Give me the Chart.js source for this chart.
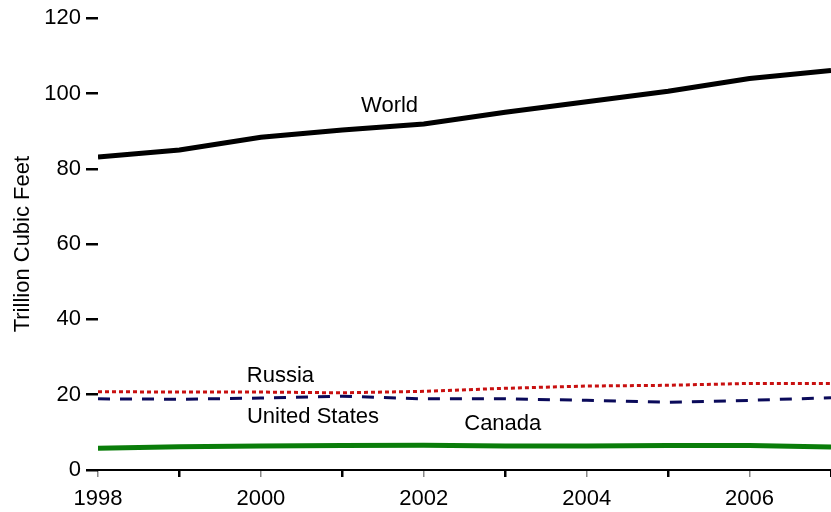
<!DOCTYPE html>
<html>
<head>
<meta charset="utf-8">
<script src="https://cdn.jsdelivr.net/npm/chart.js@4/dist/chart.umd.min.js"></script>
<style>
  html, body { margin: 0; padding: 0; background: #fff; }
  #wrap { width: 831px; height: 512px; }
</style>
</head>
<body>
<div id="wrap"><canvas id="gasChart" width="831" height="512"></canvas></div>
<script>
// data (trillion cubic feet)
var years = [1998, 1999, 2000, 2001, 2002, 2003, 2004, 2005, 2006, 2007];
var world = [83.1, 85.0, 88.4, 90.3, 91.9, 95.0, 97.8, 100.6, 104.0, 106.1];
var russia = [20.8, 20.7, 20.7, 20.5, 20.9, 21.7, 22.3, 22.5, 23.0, 23.0];
var unitedStates = [18.9, 18.8, 19.1, 19.6, 18.9, 18.9, 18.5, 18.0, 18.5, 19.2];
var canada = [5.8, 6.2, 6.4, 6.5, 6.6, 6.4, 6.4, 6.5, 6.5, 6.1];
var yTicks = [0, 20, 40, 60, 80, 100, 120];

// series labels placed in data coordinates
var seriesLabels = [
	{ text: "World", x: 2001.58, y: 96.6 },
	{ text: "Russia", x: 2000.24, y: 25.0 },
	{ text: "United States", x: 2000.64, y: 14.0 },
	{ text: "Canada", x: 2002.97, y: 12.2 }
];

function toPoints(vals) {
	var pts = [];
	for (var i = 0; i < years.length; i++) {
		pts.push({ x: years[i], y: vals[i] });
	}
	return pts;
}

var labelPlugin = {
	id: 'seriesLabels',
	afterDatasetsDraw: function(chart) {
		var ctx = chart.ctx;
		var xs = chart.scales.x, ys = chart.scales.y;
		ctx.save();
		ctx.fillStyle = '#000';
		ctx.font = '22px "Liberation Sans", Arial, sans-serif';
		ctx.textAlign = 'center';
		ctx.textBaseline = 'middle';
		seriesLabels.forEach(function(l) {
			ctx.fillText(l.text, xs.getPixelForValue(l.x), ys.getPixelForValue(l.y));
		});
		ctx.restore();
	}
};

Chart.defaults.font.family = '"Liberation Sans", Arial, sans-serif';
Chart.defaults.color = '#000';

var ctx = document.getElementById("gasChart").getContext('2d');
var myChart = new Chart(ctx, {
	type: 'line',
	data: {
		datasets: [
			{ label: 'World', data: toPoints(world), borderColor: '#000', borderWidth: 5 },
			{ label: 'Russia', data: toPoints(russia), borderColor: '#c81010', borderWidth: 3, borderDash: [4, 3] },
			{ label: 'United States', data: toPoints(unitedStates), borderColor: '#0a0a5a', borderWidth: 3, borderDash: [12, 10] },
			{ label: 'Canada', data: toPoints(canada), borderColor: '#0a7d0a', borderWidth: 5 }
		]
	},
	options: {
		responsive: false,
		animation: false,
		layout: { padding: { top: 18, right: 0, left: 0, bottom: 0 } },
		elements: {
			point: { radius: 0 },
			line: { tension: 0, fill: false, borderCapStyle: 'butt' }
		},
		plugins: {
			legend: { display: false },
			tooltip: { enabled: false }
		},
		scales: {
			x: {
				type: 'linear',
				min: 1998,
				max: 2007,
				afterFit: function(scale) {
					scale.height = 42;
					scale.paddingLeft = 0;
					scale.paddingRight = 0;
				},
				afterBuildTicks: function(scale) {
					scale.ticks = years.map(function(y) { return { value: y }; });
				},
				ticks: {
					font: { size: 22 },
					color: '#000',
					maxRotation: 0,
					autoSkip: false,
					padding: 9,
					callback: function(v) { return v % 2 === 0 ? String(v) : ''; }
				},
				grid: {
					drawOnChartArea: false,
					drawTicks: true,
					tickLength: 7,
					color: function(c) { return c.tick && c.tick.value % 2 === 0 ? '#888' : '#000'; },
					lineWidth: function(c) { return c.tick && c.tick.value % 2 === 0 ? 1.5 : 2.5; }
				},
				border: { display: true, color: '#000', width: 2 }
			},
			y: {
				min: 0,
				max: 120,
				afterFit: function(scale) { scale.width = 98; },
				afterBuildTicks: function(scale) {
					scale.ticks = yTicks.map(function(v) { return { value: v }; });
				},
				ticks: {
					font: { size: 22 },
					color: '#000',
					padding: 5
				},
				grid: {
					drawOnChartArea: false,
					drawTicks: true,
					tickLength: 12,
					color: '#000',
					lineWidth: 2.5
				},
				border: { display: false },
				title: {
					display: true,
					text: 'Trillion Cubic Feet',
					font: { size: 22 },
					color: '#000',
					padding: { top: 10, bottom: 0 }
				}
			}
		}
	},
	plugins: [labelPlugin]
});
</script>
</body>
</html>
